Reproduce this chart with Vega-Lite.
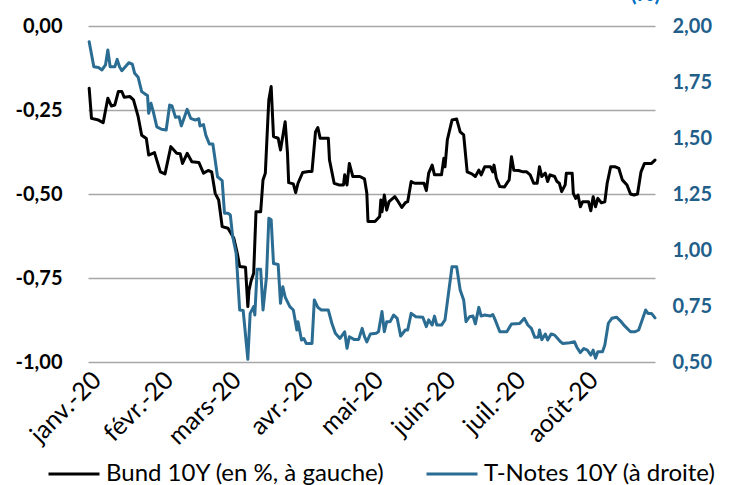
{
  "$schema": "https://vega.github.io/schema/vega-lite/v6.json",
  "width": 567,
  "height": 336,
  "autosize": {"type": "none"},
  "padding": {"left": 88, "top": 26, "right": 74, "bottom": 123},
  "background": "white",
  "config": {
    "view": {"stroke": null},
    "font": "Lato",
    "axis": {"domain": false, "ticks": false}
  },
  "datasets": {
    "bund": [
      {"date": "2020-01-01T12:00", "value": -0.185},
      {"date": "2020-01-02T12:00", "value": -0.275},
      {"date": "2020-01-05T12:00", "value": -0.28},
      {"date": "2020-01-07T12:00", "value": -0.288},
      {"date": "2020-01-09T12:00", "value": -0.215},
      {"date": "2020-01-11T00:00", "value": -0.238},
      {"date": "2020-01-12T12:00", "value": -0.235},
      {"date": "2020-01-14T00:00", "value": -0.195},
      {"date": "2020-01-15T12:00", "value": -0.195},
      {"date": "2020-01-16T12:00", "value": -0.212},
      {"date": "2020-01-19T00:00", "value": -0.21},
      {"date": "2020-01-20T12:00", "value": -0.22},
      {"date": "2020-01-22T12:00", "value": -0.27},
      {"date": "2020-01-24T00:00", "value": -0.325},
      {"date": "2020-01-26T00:00", "value": -0.335},
      {"date": "2020-01-27T00:00", "value": -0.384},
      {"date": "2020-01-29T12:00", "value": -0.377},
      {"date": "2020-02-01T00:00", "value": -0.434},
      {"date": "2020-02-03T00:00", "value": -0.44},
      {"date": "2020-02-05T12:00", "value": -0.359},
      {"date": "2020-02-08T00:00", "value": -0.379},
      {"date": "2020-02-09T12:00", "value": -0.38},
      {"date": "2020-02-10T12:00", "value": -0.409},
      {"date": "2020-02-12T12:00", "value": -0.379},
      {"date": "2020-02-14T12:00", "value": -0.404},
      {"date": "2020-02-17T12:00", "value": -0.406},
      {"date": "2020-02-19T12:00", "value": -0.438},
      {"date": "2020-02-21T12:00", "value": -0.43},
      {"date": "2020-02-23T00:00", "value": -0.434},
      {"date": "2020-02-24T12:00", "value": -0.498},
      {"date": "2020-02-26T00:00", "value": -0.518},
      {"date": "2020-02-27T12:00", "value": -0.597},
      {"date": "2020-03-01T00:00", "value": -0.602},
      {"date": "2020-03-03T12:00", "value": -0.632},
      {"date": "2020-03-05T00:00", "value": -0.677},
      {"date": "2020-03-06T00:00", "value": -0.716},
      {"date": "2020-03-08T12:00", "value": -0.718},
      {"date": "2020-03-09T12:00", "value": -0.835},
      {"date": "2020-03-10T00:00", "value": -0.786},
      {"date": "2020-03-11T00:00", "value": -0.756},
      {"date": "2020-03-12T00:00", "value": -0.736},
      {"date": "2020-03-13T00:00", "value": -0.553},
      {"date": "2020-03-15T00:00", "value": -0.553},
      {"date": "2020-03-16T00:00", "value": -0.458},
      {"date": "2020-03-17T00:00", "value": -0.438},
      {"date": "2020-03-18T00:00", "value": -0.29},
      {"date": "2020-03-18T12:00", "value": -0.22},
      {"date": "2020-03-19T12:00", "value": -0.18},
      {"date": "2020-03-20T12:00", "value": -0.329},
      {"date": "2020-03-22T12:00", "value": -0.334},
      {"date": "2020-03-23T12:00", "value": -0.369},
      {"date": "2020-03-25T12:00", "value": -0.285},
      {"date": "2020-03-26T12:00", "value": -0.379},
      {"date": "2020-03-27T00:00", "value": -0.466},
      {"date": "2020-03-29T00:00", "value": -0.47},
      {"date": "2020-03-30T00:00", "value": -0.496},
      {"date": "2020-03-31T00:00", "value": -0.468},
      {"date": "2020-04-02T00:00", "value": -0.436},
      {"date": "2020-04-04T12:00", "value": -0.433},
      {"date": "2020-04-06T00:00", "value": -0.433},
      {"date": "2020-04-07T12:00", "value": -0.315},
      {"date": "2020-04-08T12:00", "value": -0.302},
      {"date": "2020-04-09T12:00", "value": -0.334},
      {"date": "2020-04-13T00:00", "value": -0.334},
      {"date": "2020-04-13T12:00", "value": -0.399},
      {"date": "2020-04-15T12:00", "value": -0.468},
      {"date": "2020-04-17T12:00", "value": -0.473},
      {"date": "2020-04-19T12:00", "value": -0.473},
      {"date": "2020-04-20T00:00", "value": -0.443},
      {"date": "2020-04-21T00:00", "value": -0.473},
      {"date": "2020-04-22T00:00", "value": -0.409},
      {"date": "2020-04-23T12:00", "value": -0.448},
      {"date": "2020-04-26T12:00", "value": -0.448},
      {"date": "2020-04-28T12:00", "value": -0.455},
      {"date": "2020-04-29T12:00", "value": -0.498},
      {"date": "2020-04-30T00:00", "value": -0.582},
      {"date": "2020-05-03T00:00", "value": -0.582},
      {"date": "2020-05-05T00:00", "value": -0.567},
      {"date": "2020-05-05T12:00", "value": -0.518},
      {"date": "2020-05-06T00:00", "value": -0.553},
      {"date": "2020-05-07T00:00", "value": -0.503},
      {"date": "2020-05-08T00:00", "value": -0.548},
      {"date": "2020-05-09T00:00", "value": -0.523},
      {"date": "2020-05-11T12:00", "value": -0.508},
      {"date": "2020-05-12T12:00", "value": -0.518},
      {"date": "2020-05-14T12:00", "value": -0.54},
      {"date": "2020-05-16T00:00", "value": -0.526},
      {"date": "2020-05-17T00:00", "value": -0.523},
      {"date": "2020-05-18T12:00", "value": -0.463},
      {"date": "2020-05-20T00:00", "value": -0.468},
      {"date": "2020-05-24T00:00", "value": -0.468},
      {"date": "2020-05-25T00:00", "value": -0.49},
      {"date": "2020-05-26T00:00", "value": -0.438},
      {"date": "2020-05-27T12:00", "value": -0.414},
      {"date": "2020-05-28T12:00", "value": -0.443},
      {"date": "2020-05-31T12:00", "value": -0.443},
      {"date": "2020-06-01T12:00", "value": -0.394},
      {"date": "2020-06-02T00:00", "value": -0.419},
      {"date": "2020-06-03T00:00", "value": -0.339},
      {"date": "2020-06-05T00:00", "value": -0.28},
      {"date": "2020-06-07T00:00", "value": -0.277},
      {"date": "2020-06-08T12:00", "value": -0.315},
      {"date": "2020-06-10T00:00", "value": -0.324},
      {"date": "2020-06-11T12:00", "value": -0.434},
      {"date": "2020-06-13T12:00", "value": -0.44},
      {"date": "2020-06-15T00:00", "value": -0.448},
      {"date": "2020-06-16T12:00", "value": -0.429},
      {"date": "2020-06-17T12:00", "value": -0.443},
      {"date": "2020-06-19T00:00", "value": -0.419},
      {"date": "2020-06-21T12:00", "value": -0.419},
      {"date": "2020-06-22T12:00", "value": -0.434},
      {"date": "2020-06-23T00:00", "value": -0.414},
      {"date": "2020-06-24T00:00", "value": -0.453},
      {"date": "2020-06-25T12:00", "value": -0.478},
      {"date": "2020-06-27T12:00", "value": -0.479},
      {"date": "2020-06-29T12:00", "value": -0.458},
      {"date": "2020-06-30T12:00", "value": -0.389},
      {"date": "2020-07-01T12:00", "value": -0.429},
      {"date": "2020-07-03T12:00", "value": -0.43},
      {"date": "2020-07-05T12:00", "value": -0.434},
      {"date": "2020-07-07T00:00", "value": -0.434},
      {"date": "2020-07-08T12:00", "value": -0.443},
      {"date": "2020-07-10T00:00", "value": -0.468},
      {"date": "2020-07-11T12:00", "value": -0.468},
      {"date": "2020-07-12T12:00", "value": -0.419},
      {"date": "2020-07-13T12:00", "value": -0.448},
      {"date": "2020-07-15T00:00", "value": -0.438},
      {"date": "2020-07-16T00:00", "value": -0.463},
      {"date": "2020-07-17T00:00", "value": -0.443},
      {"date": "2020-07-19T00:00", "value": -0.448},
      {"date": "2020-07-20T00:00", "value": -0.463},
      {"date": "2020-07-21T00:00", "value": -0.468},
      {"date": "2020-07-22T00:00", "value": -0.493},
      {"date": "2020-07-23T12:00", "value": -0.473},
      {"date": "2020-07-24T00:00", "value": -0.438},
      {"date": "2020-07-26T12:00", "value": -0.438},
      {"date": "2020-07-27T00:00", "value": -0.498},
      {"date": "2020-07-28T00:00", "value": -0.513},
      {"date": "2020-07-29T00:00", "value": -0.503},
      {"date": "2020-07-30T00:00", "value": -0.538},
      {"date": "2020-07-31T00:00", "value": -0.523},
      {"date": "2020-08-02T12:00", "value": -0.523},
      {"date": "2020-08-03T12:00", "value": -0.55},
      {"date": "2020-08-04T12:00", "value": -0.508},
      {"date": "2020-08-05T12:00", "value": -0.538},
      {"date": "2020-08-06T12:00", "value": -0.513},
      {"date": "2020-08-08T00:00", "value": -0.526},
      {"date": "2020-08-09T12:00", "value": -0.523},
      {"date": "2020-08-10T12:00", "value": -0.468},
      {"date": "2020-08-12T00:00", "value": -0.419},
      {"date": "2020-08-14T00:00", "value": -0.419},
      {"date": "2020-08-15T12:00", "value": -0.424},
      {"date": "2020-08-17T00:00", "value": -0.458},
      {"date": "2020-08-19T00:00", "value": -0.473},
      {"date": "2020-08-20T12:00", "value": -0.5},
      {"date": "2020-08-22T00:00", "value": -0.503},
      {"date": "2020-08-23T12:00", "value": -0.5},
      {"date": "2020-08-25T00:00", "value": -0.434},
      {"date": "2020-08-26T12:00", "value": -0.409},
      {"date": "2020-08-29T12:00", "value": -0.409},
      {"date": "2020-08-31T00:00", "value": -0.399}
    ],
    "tnote": [
      {"date": "2020-01-01T12:00", "value": 1.93},
      {"date": "2020-01-03T12:00", "value": 1.818},
      {"date": "2020-01-05T12:00", "value": 1.815},
      {"date": "2020-01-07T00:00", "value": 1.804},
      {"date": "2020-01-08T12:00", "value": 1.826},
      {"date": "2020-01-09T12:00", "value": 1.893},
      {"date": "2020-01-10T12:00", "value": 1.818},
      {"date": "2020-01-12T12:00", "value": 1.818},
      {"date": "2020-01-13T12:00", "value": 1.851},
      {"date": "2020-01-14T12:00", "value": 1.818},
      {"date": "2020-01-15T12:00", "value": 1.8},
      {"date": "2020-01-18T12:00", "value": 1.836},
      {"date": "2020-01-20T00:00", "value": 1.83},
      {"date": "2020-01-21T00:00", "value": 1.789},
      {"date": "2020-01-22T12:00", "value": 1.771},
      {"date": "2020-01-24T00:00", "value": 1.707},
      {"date": "2020-01-25T12:00", "value": 1.696},
      {"date": "2020-01-26T12:00", "value": 1.69},
      {"date": "2020-01-27T00:00", "value": 1.61},
      {"date": "2020-01-28T00:00", "value": 1.655},
      {"date": "2020-01-29T00:00", "value": 1.617},
      {"date": "2020-01-30T12:00", "value": 1.55},
      {"date": "2020-02-01T12:00", "value": 1.539},
      {"date": "2020-02-03T12:00", "value": 1.536},
      {"date": "2020-02-05T00:00", "value": 1.647},
      {"date": "2020-02-06T00:00", "value": 1.643},
      {"date": "2020-02-07T12:00", "value": 1.592},
      {"date": "2020-02-09T00:00", "value": 1.595},
      {"date": "2020-02-10T00:00", "value": 1.554},
      {"date": "2020-02-12T12:00", "value": 1.628},
      {"date": "2020-02-14T00:00", "value": 1.588},
      {"date": "2020-02-16T00:00", "value": 1.58},
      {"date": "2020-02-17T12:00", "value": 1.586},
      {"date": "2020-02-18T00:00", "value": 1.554},
      {"date": "2020-02-19T12:00", "value": 1.56},
      {"date": "2020-02-20T12:00", "value": 1.513},
      {"date": "2020-02-22T00:00", "value": 1.473},
      {"date": "2020-02-23T12:00", "value": 1.473},
      {"date": "2020-02-24T12:00", "value": 1.402},
      {"date": "2020-02-25T12:00", "value": 1.327},
      {"date": "2020-02-27T12:00", "value": 1.31},
      {"date": "2020-02-28T12:00", "value": 1.164},
      {"date": "2020-03-01T00:00", "value": 1.164},
      {"date": "2020-03-02T00:00", "value": 1.156},
      {"date": "2020-03-03T00:00", "value": 1.06},
      {"date": "2020-03-04T12:00", "value": 0.985},
      {"date": "2020-03-06T00:00", "value": 0.732},
      {"date": "2020-03-07T12:00", "value": 0.73},
      {"date": "2020-03-09T12:00", "value": 0.512},
      {"date": "2020-03-10T12:00", "value": 0.717},
      {"date": "2020-03-12T00:00", "value": 0.747},
      {"date": "2020-03-12T12:00", "value": 0.71},
      {"date": "2020-03-13T12:00", "value": 0.914},
      {"date": "2020-03-15T00:00", "value": 0.914},
      {"date": "2020-03-16T00:00", "value": 0.732},
      {"date": "2020-03-17T12:00", "value": 0.881},
      {"date": "2020-03-18T12:00", "value": 1.142},
      {"date": "2020-03-19T12:00", "value": 1.135},
      {"date": "2020-03-20T12:00", "value": 0.94},
      {"date": "2020-03-22T12:00", "value": 0.935},
      {"date": "2020-03-23T12:00", "value": 0.762},
      {"date": "2020-03-24T12:00", "value": 0.836},
      {"date": "2020-03-25T12:00", "value": 0.79},
      {"date": "2020-03-27T12:00", "value": 0.747},
      {"date": "2020-03-29T00:00", "value": 0.732},
      {"date": "2020-03-30T12:00", "value": 0.643},
      {"date": "2020-03-31T00:00", "value": 0.68},
      {"date": "2020-04-01T12:00", "value": 0.598},
      {"date": "2020-04-02T12:00", "value": 0.605},
      {"date": "2020-04-03T12:00", "value": 0.583},
      {"date": "2020-04-06T00:00", "value": 0.583},
      {"date": "2020-04-07T00:00", "value": 0.777},
      {"date": "2020-04-08T12:00", "value": 0.744},
      {"date": "2020-04-10T00:00", "value": 0.732},
      {"date": "2020-04-13T00:00", "value": 0.732},
      {"date": "2020-04-14T12:00", "value": 0.673},
      {"date": "2020-04-16T00:00", "value": 0.628},
      {"date": "2020-04-18T00:00", "value": 0.605},
      {"date": "2020-04-20T00:00", "value": 0.635},
      {"date": "2020-04-21T00:00", "value": 0.561},
      {"date": "2020-04-22T00:00", "value": 0.613},
      {"date": "2020-04-24T00:00", "value": 0.601},
      {"date": "2020-04-26T00:00", "value": 0.601},
      {"date": "2020-04-27T12:00", "value": 0.65},
      {"date": "2020-04-28T12:00", "value": 0.613},
      {"date": "2020-04-29T12:00", "value": 0.59},
      {"date": "2020-05-01T00:00", "value": 0.625},
      {"date": "2020-05-03T12:00", "value": 0.628},
      {"date": "2020-05-04T12:00", "value": 0.635},
      {"date": "2020-05-06T00:00", "value": 0.725},
      {"date": "2020-05-07T00:00", "value": 0.635},
      {"date": "2020-05-08T00:00", "value": 0.68},
      {"date": "2020-05-09T12:00", "value": 0.68},
      {"date": "2020-05-11T00:00", "value": 0.71},
      {"date": "2020-05-12T12:00", "value": 0.695},
      {"date": "2020-05-14T00:00", "value": 0.616},
      {"date": "2020-05-16T00:00", "value": 0.643},
      {"date": "2020-05-17T00:00", "value": 0.643},
      {"date": "2020-05-18T12:00", "value": 0.717},
      {"date": "2020-05-20T12:00", "value": 0.702},
      {"date": "2020-05-23T12:00", "value": 0.7},
      {"date": "2020-05-25T00:00", "value": 0.658},
      {"date": "2020-05-26T00:00", "value": 0.688},
      {"date": "2020-05-27T12:00", "value": 0.665},
      {"date": "2020-05-28T12:00", "value": 0.705},
      {"date": "2020-05-29T12:00", "value": 0.665},
      {"date": "2020-05-31T12:00", "value": 0.665},
      {"date": "2020-06-02T00:00", "value": 0.688},
      {"date": "2020-06-03T12:00", "value": 0.807},
      {"date": "2020-06-05T00:00", "value": 0.925},
      {"date": "2020-06-07T00:00", "value": 0.925},
      {"date": "2020-06-08T12:00", "value": 0.821},
      {"date": "2020-06-10T00:00", "value": 0.777},
      {"date": "2020-06-11T00:00", "value": 0.68},
      {"date": "2020-06-12T12:00", "value": 0.702},
      {"date": "2020-06-14T00:00", "value": 0.705},
      {"date": "2020-06-15T00:00", "value": 0.67},
      {"date": "2020-06-16T12:00", "value": 0.744},
      {"date": "2020-06-17T12:00", "value": 0.705},
      {"date": "2020-06-19T00:00", "value": 0.71},
      {"date": "2020-06-21T12:00", "value": 0.705},
      {"date": "2020-06-22T12:00", "value": 0.712},
      {"date": "2020-06-23T12:00", "value": 0.688},
      {"date": "2020-06-25T12:00", "value": 0.635},
      {"date": "2020-06-28T12:00", "value": 0.635},
      {"date": "2020-06-30T12:00", "value": 0.67},
      {"date": "2020-07-04T00:00", "value": 0.672},
      {"date": "2020-07-06T00:00", "value": 0.695},
      {"date": "2020-07-07T12:00", "value": 0.665},
      {"date": "2020-07-09T00:00", "value": 0.65},
      {"date": "2020-07-10T12:00", "value": 0.61},
      {"date": "2020-07-12T00:00", "value": 0.61},
      {"date": "2020-07-12T12:00", "value": 0.643},
      {"date": "2020-07-13T12:00", "value": 0.6},
      {"date": "2020-07-15T00:00", "value": 0.625},
      {"date": "2020-07-16T00:00", "value": 0.598},
      {"date": "2020-07-17T12:00", "value": 0.625},
      {"date": "2020-07-19T00:00", "value": 0.62},
      {"date": "2020-07-21T12:00", "value": 0.59},
      {"date": "2020-07-22T12:00", "value": 0.583},
      {"date": "2020-07-25T12:00", "value": 0.586},
      {"date": "2020-07-27T12:00", "value": 0.59},
      {"date": "2020-07-28T12:00", "value": 0.566},
      {"date": "2020-07-30T00:00", "value": 0.542},
      {"date": "2020-07-31T12:00", "value": 0.56},
      {"date": "2020-08-02T00:00", "value": 0.553},
      {"date": "2020-08-03T12:00", "value": 0.531},
      {"date": "2020-08-04T12:00", "value": 0.553},
      {"date": "2020-08-05T12:00", "value": 0.517},
      {"date": "2020-08-06T12:00", "value": 0.546},
      {"date": "2020-08-08T12:00", "value": 0.546},
      {"date": "2020-08-09T12:00", "value": 0.576},
      {"date": "2020-08-11T00:00", "value": 0.673},
      {"date": "2020-08-12T12:00", "value": 0.695},
      {"date": "2020-08-14T12:00", "value": 0.7},
      {"date": "2020-08-16T12:00", "value": 0.68},
      {"date": "2020-08-18T00:00", "value": 0.661},
      {"date": "2020-08-20T12:00", "value": 0.635},
      {"date": "2020-08-22T12:00", "value": 0.635},
      {"date": "2020-08-24T00:00", "value": 0.643},
      {"date": "2020-08-25T12:00", "value": 0.688},
      {"date": "2020-08-27T00:00", "value": 0.732},
      {"date": "2020-08-28T00:00", "value": 0.717},
      {"date": "2020-08-29T12:00", "value": 0.717},
      {"date": "2020-08-31T00:00", "value": 0.697}
    ]
  },
  "layer": [
    {
      "data": {"name": "bund"},
      "mark": {"type": "line", "strokeWidth": 3, "strokeJoin": "round", "strokeCap": "round"},
      "encoding": {
        "x": {
          "field": "date", "type": "temporal",
          "scale": {"domain": [{"year": 2020, "month": 1, "date": 1}, {"year": 2020, "month": 8, "date": 31}]},
          "axis": {
            "values": [
              {"year": 2020, "month": 1, "date": 1},
              {"year": 2020, "month": 2, "date": 1},
              {"year": 2020, "month": 3, "date": 1},
              {"year": 2020, "month": 4, "date": 1},
              {"year": 2020, "month": 5, "date": 1},
              {"year": 2020, "month": 6, "date": 1},
              {"year": 2020, "month": 7, "date": 1},
              {"year": 2020, "month": 8, "date": 1}
            ],
            "labelExpr": "['janv.','févr.','mars','avr.','mai','juin','juil.','août','sept.','oct.','nov.','déc.'][month(datum.value)] + '-20'",
            "labelAngle": -45,
            "labelFontSize": 25,
            "labelColor": "#000000",
            "labelPadding": 5,
            "labelBound": false,
            "labelOverlap": false,
            "labelFlush": false,
            "grid": false,
            "title": null
          }
        },
        "y": {
          "field": "value", "type": "quantitative",
          "scale": {"domain": [-1, 0], "nice": false, "zero": false},
          "axis": {
            "orient": "left",
            "values": [-1, -0.75, -0.5, -0.25, 0],
            "labelExpr": "replace(replace(format(datum.value, '.2f'), '.', ','), '\u2212', '-')",
            "labelFontSize": 20,
            "labelFontWeight": "bold",
            "labelColor": "#000000",
            "labelPadding": 26,
            "grid": true,
            "gridColor": "#A6A6A6",
            "gridWidth": 1.5,
            "title": null
          }
        },
        "color": {
          "datum": "Bund 10Y (en %, à gauche)",
          "scale": {"domain": ["Bund 10Y (en %, à gauche)", "T-Notes 10Y (à droite)"], "range": ["#000000", "#2B6C93"]},
          "legend": {
            "orient": "none",
            "legendX": -41,
            "legendY": 421,
            "direction": "horizontal",
            "title": null,
            "symbolType": "stroke",
            "symbolSize": 2601,
            "symbolStrokeWidth": 3,
            "labelFontSize": 24,
            "labelColor": "#000000",
            "labelOffset": 5,
            "labelLimit": 400,
            "columnPadding": 35
          }
        }
      }
    },
    {
      "data": {"name": "tnote"},
      "mark": {"type": "line", "strokeWidth": 3, "strokeJoin": "round", "strokeCap": "round"},
      "encoding": {
        "x": {
          "field": "date", "type": "temporal"
        },
        "y": {
          "field": "value", "type": "quantitative",
          "scale": {"domain": [0.5, 2], "nice": false, "zero": false},
          "axis": {
            "orient": "right",
            "values": [0.5, 0.75, 1, 1.25, 1.5, 1.75, 2],
            "labelExpr": "replace(format(datum.value, '.2f'), '.', ',')",
            "labelFontSize": 20,
            "labelFontWeight": "bold",
            "labelColor": "#215E8A",
            "labelPadding": 17,
            "grid": false,
            "title": "(%)",
            "titleAngle": 0,
            "titleX": -10,
            "titleY": -26,
            "titleAlign": "center",
            "titleBaseline": "alphabetic",
            "titleColor": "#0070C0",
            "titleFontSize": 22,
            "titleFontWeight": "bold"
          }
        },
        "color": {"datum": "T-Notes 10Y (à droite)"}
      }
    }
  ],
  "resolve": {"scale": {"y": "independent"}}
}
